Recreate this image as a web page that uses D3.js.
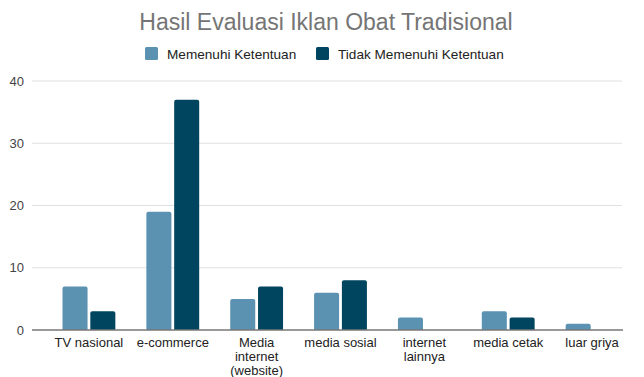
<!DOCTYPE html>
<html>
<head>
<meta charset="utf-8">
<script src="https://cdn.jsdelivr.net/npm/d3@7"></script>
<style>
  html, body { margin: 0; padding: 0; background: #fff; }
  svg { display: block; font-family: "Liberation Sans", Arial, sans-serif; }
</style>
</head>
<body>
<svg id="chart" width="644" height="377"></svg>
<script>
// Media channels (category labels, split into lines)
const categories = [
  ["TV nasional"],
  ["e-commerce"],
  ["Media", "internet", "(website)"],
  ["media sosial"],
  ["internet", "lainnya"],
  ["media cetak"],
  ["luar griya"]
];
const seriesNames = ["Memenuhi Ketentuan", "Tidak Memenuhi Ketentuan"];
const memenuhi = [7, 19, 5, 6, 2, 3, 1];
const tidakMemenuhi = [3, 37, 7, 8, 0, 2, 0];
const yTicks = [0, 10, 20, 30, 40];
const colors = ["#5b91b1", "#00455f"];

const svg = d3.select("#chart");
const W = 644, H = 377;
const plot = { left: 32, right: 622, top: 81, bottom: 330 };

// Category slots across the chart area
const x0 = d3.scaleBand()
  .domain(d3.range(categories.length))
  .range([47, 634])
  .padding(0);

// Bar pair sits centred inside each slot
const groupFrac = 0.63;
const x1 = d3.scaleBand()
  .domain([0, 1])
  .range([-x0.bandwidth() * groupFrac / 2, x0.bandwidth() * groupFrac / 2])
  .paddingInner(0.1);

const y = d3.scaleLinear()
  .domain([0, 40])
  .range([plot.bottom, plot.top]);

// Title
svg.append("text")
  .attr("x", 326).attr("y", 30)
  .attr("text-anchor", "middle")
  .attr("font-size", 23)
  .attr("fill", "#757575")
  .text("Hasil Evaluasi Iklan Obat Tradisional");

// Legend
const legendItems = [
  { name: seriesNames[0], color: colors[0], x: 145 },
  { name: seriesNames[1], color: colors[1], x: 316 }
];
const lg = svg.append("g");
legendItems.forEach(it => {
  lg.append("rect")
    .attr("x", it.x).attr("y", 47)
    .attr("width", 13).attr("height", 13)
    .attr("rx", 1.5)
    .attr("fill", it.color);
  lg.append("text")
    .attr("x", it.x + 22).attr("y", 58.5)
    .attr("font-size", 13.6)
    .attr("fill", "#222")
    .text(it.name);
});

// Gridlines
svg.append("g")
  .selectAll("line")
  .data(yTicks.filter(t => t !== 0))
  .join("line")
  .attr("x1", plot.left).attr("x2", plot.right)
  .attr("y1", d => y(d)).attr("y2", d => y(d))
  .attr("stroke", "#e0e0e0")
  .attr("stroke-width", 1);

// Y axis labels
const yAxis = d3.axisLeft(y).tickValues(yTicks).tickSize(0).tickPadding(8);
const yg = svg.append("g")
  .attr("transform", `translate(${plot.left},0)`)
  .call(yAxis);
yg.select(".domain").remove();
yg.selectAll("text")
  .attr("font-size", 13)
  .attr("font-family", "'Liberation Sans', Arial, sans-serif")
  .attr("fill", "#444")
  .attr("x", -8);

// Bars with rounded top corners
function barPath(x, yTop, w, yBase, r) {
  const h = yBase - yTop;
  if (h <= 0) return "";
  r = Math.min(r, h, w / 2);
  return `M${x},${yBase}V${yTop + r}Q${x},${yTop} ${x + r},${yTop}` +
         `H${x + w - r}Q${x + w},${yTop} ${x + w},${yTop + r}V${yBase}Z`;
}

const data = categories.map((c, i) => ({ i, values: [memenuhi[i], tidakMemenuhi[i]] }));
const groups = svg.append("g")
  .selectAll("g")
  .data(data)
  .join("g")
  .attr("transform", d => `translate(${x0(d.i) + x0.bandwidth() / 2},0)`);

groups.selectAll("path")
  .data(d => d.values.map((v, k) => ({ v, k })))
  .join("path")
  .attr("d", d => barPath(x1(d.k), y(d.v), x1.bandwidth(), y(0), 2))
  .attr("fill", d => colors[d.k]);

// Baseline
svg.append("line")
  .attr("x1", plot.left).attr("x2", plot.right + 1)
  .attr("y1", y(0)).attr("y2", y(0))
  .attr("stroke", "#777")
  .attr("stroke-width", 1.3);

// X axis labels
const xl = svg.append("g");
categories.forEach((lines, i) => {
  const cx = x0(i) + x0.bandwidth() / 2;
  const t = xl.append("text")
    .attr("x", cx)
    .attr("y", y(0) + 17)
    .attr("text-anchor", "middle")
    .attr("font-size", 13)
    .attr("fill", "#222");
  lines.forEach((ln, j) => {
    t.append("tspan")
      .attr("x", cx)
      .attr("dy", j === 0 ? 0 : 14)
      .text(ln);
  });
});
</script>
</body>
</html>
